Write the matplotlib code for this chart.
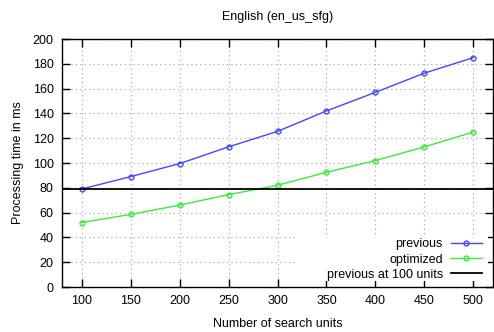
import matplotlib.pyplot as plt
from matplotlib.patches import Rectangle

units = [100, 150, 200, 250, 300, 350, 400, 450, 500]
previous = [79, 89, 99.5, 113, 125.5, 142, 157, 172.5, 185]
optimized = [52, 58.5, 66, 74.5, 82, 92.5, 102, 113, 125]
baseline = 79

plt.rcParams["font.family"] = ["Liberation Sans", "DejaVu Sans"]
plt.rcParams["font.size"] = 9

W, H = 494, 332
fig = plt.figure(figsize=(W / 100, H / 100), dpi=100)
ax = fig.add_axes([62 / W, 45 / H, 431 / W, 248 / H])

ax.plot(units, previous, color="#4646ff", linewidth=1.0, marker="o",
        markersize=3.5, markerfacecolor="none", markeredgewidth=1.0, label="previous")
ax.plot(units, optimized, color="#3ee83e", linewidth=1.0, marker="o",
        markersize=3.5, markerfacecolor="none", markeredgewidth=1.0, label="optimized")
ax.axhline(baseline, color="black", linewidth=1.3, label="previous at 100 units")

ax.set_xlim(80, 520)
ax.set_ylim(0, 200)
ax.set_xticks(units)
ax.set_yticks(range(0, 201, 20))
ax.grid(True, color="#a0a0a0", linestyle=(0, (1, 3)), linewidth=0.8)
ax.tick_params(direction="in", length=6, top=True, right=True, pad=6, width=1.0)
for s in ax.spines.values():
    s.set_linewidth(1.0)

# key area blanks the grid (ticks stay visible)
ax.add_patch(Rectangle(((297 - 62) / 431, 6 / 248), (488 - 297) / 431, 46 / 248,
                       transform=ax.transAxes, facecolor="white", edgecolor="none",
                       zorder=1.8))

ax.set_title("English (en_us_sfg)", fontsize=9, pad=14)
ax.set_xlabel("Number of search units", labelpad=8)
ax.set_ylabel("Processing time in ms", labelpad=6)

leg = ax.legend(loc="lower right", bbox_to_anchor=(1 - 5 / 431, 0),
                markerfirst=False, frameon=False,
                handlelength=2.5, borderaxespad=0.3, labelspacing=0.25,
                handletextpad=0.6, borderpad=0.2)
for t in leg.get_texts():
    t.set_ha("right")
leg.set_zorder(5)

fig.savefig("out.png", dpi=100)
